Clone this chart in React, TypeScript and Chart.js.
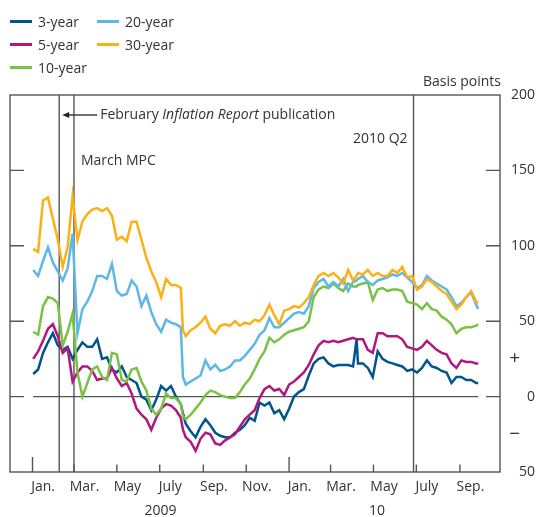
import React, { useEffect, useRef } from "react";
import { Chart, registerables } from "chart.js";

Chart.register(...registerables);

// Sample dates: days counted from 1 January 2009 (roughly weekly)
const days = [
  1, 8, 15, 22, 29, 36, 43, 50, 57, 64,
  71, 78, 85, 92, 99, 106, 113, 120, 127, 134,
  141, 148, 155, 162, 169, 176, 183, 190, 197, 204,
  211, 214, 218, 225, 232, 239, 246, 253, 260, 267,
  274, 281, 288, 295, 302, 309, 316, 323, 330, 337,
  344, 351, 358, 365, 372, 379, 386, 393, 400, 407,
  414, 421, 428, 435, 442, 449, 456, 461, 463, 470,
  477, 484, 491, 498, 505, 512, 519, 526, 533, 540,
  547, 554, 561, 568, 575, 582, 589, 596, 603, 610,
  617, 624, 631, 634,
];

// Basis points
const threeYear = [
  15, 18, 29, 36, 42, 34, 31, 33, 25, 31,
  36, 33, 33, 38, 25, 26, 18, 16, 20, 13,
  11, 9, 0, -2, -9, -2, 7, 4, 7, 0,
  -5, -11, -18, -23, -27, -20, -15, -19, -24, -26,
  -27, -27, -24, -22, -19, -14, -16, -4, -6, -4,
  -11, -9, -15, -8, 0, 3, 5, 14, 22, 25,
  26, 22, 20, 21, 21, 21, 20, 38, 22, 22,
  19, 13, 30, 25, 23, 22, 21, 20, 17, 18,
  16, 19, 24, 20, 19, 17, 16, 9, 13, 13,
  11, 11, 9, 9,
];

const fiveYear = [
  25, 30, 37, 45, 48, 40, 29, 32, 10, 16,
  20, 20, 17, 11, 12, 12, 19, 12, 7, 9,
  2, -8, -12, -15, -22, -14, -8, -5, -6, -9,
  -14, -22, -27, -30, -36, -28, -24, -25, -31, -32,
  -29, -27, -25, -20, -15, -12, -9, -1, 5, 7,
  4, 5, 1, 8, 10, 13, 16, 21, 28, 34,
  37, 36, 37, 36, 37, 38, 39, 38, 38, 38,
  31, 29, 42, 42, 40, 40, 40, 38, 33, 32,
  31, 33, 37, 34, 31, 29, 28, 22, 19, 24,
  23, 23, 22, 22,
];

const tenYear = [
  43, 41, 60, 66, 65, 62, 34, 43, 55, 16,
  0, 9, 18, 20, 13, 11, 29, 28, 11, 10,
  18, 19, 10, 4, -8, -12, -8, 2, -1, -1,
  -5, -13, -15, -12, -8, -4, 1, 4, 3, 1,
  0, -1, -1, 3, 8, 12, 18, 25, 30, 39,
  36, 38, 41, 43, 44, 45, 46, 50, 66, 71,
  73, 72, 75, 72, 70, 75, 73, 73, 74, 75,
  76, 64, 71, 72, 70, 71, 71, 70, 63, 62,
  61, 58, 62, 58, 57, 53, 51, 48, 42, 45,
  46, 46, 47, 48,
];

const twentyYear = [
  84, 80, 90, 99, 89, 83, 77, 85, 108, 42,
  58, 63, 70, 80, 80, 78, 88, 70, 67, 68,
  77, 73, 60, 67, 56, 48, 43, 51, 49, 48,
  46, 13, 8, 10, 12, 14, 24, 18, 21, 17,
  18, 20, 24, 24, 27, 31, 35, 41, 44, 52,
  46, 46, 49, 52, 55, 56, 55, 60, 72, 76,
  78, 73, 76, 73, 78, 70, 76, 77, 78, 80,
  76, 74, 77, 78, 79, 81, 80, 82, 79, 76,
  72, 74, 80, 77, 75, 73, 71, 66, 60, 62,
  66, 69, 61, 58,
];

const thirtyYear = [
  98, 96, 130, 132, 118, 104, 86, 99, 133, 104,
  116, 121, 124, 125, 123, 125, 120, 104, 106, 103,
  116, 116, 104, 92, 83, 76, 66, 78, 74, 74,
  72, 44, 40, 44, 46, 49, 53, 45, 42, 47,
  48, 47, 50, 47, 49, 48, 51, 50, 54, 61,
  54, 48, 57, 58, 60, 59, 62, 66, 74, 80,
  82, 80, 82, 79, 75, 84, 77, 80, 82, 81,
  84, 80, 82, 80, 80, 84, 82, 86, 79, 80,
  71, 73, 78, 76, 73, 70, 68, 63, 58, 61,
  66, 70, 63, 62,
];

const seriesNames = ["3-year", "5-year", "10-year", "20-year", "30-year"];
const seriesValues = [threeYear, fiveYear, tenYear, twentyYear, thirtyYear];
const seriesColors = ["#00558a", "#b0187f", "#7bc143", "#5cb8e6", "#fdb016"];

// Axis definitions (days from 1 Jan 2009)
const xMin = -32;
const xMax = 665;
const tickDays = [0, 59, 120, 181, 243, 304, 365, 424, 485, 546, 608];
const yearStartDays = [0, 365];
const monthLabelDays = [15, 74, 135, 196, 258, 319, 380, 439, 500, 561, 623];
const monthLabels = ["Jan.", "Mar.", "May", "July", "Sep.", "Nov.", "Jan.", "Mar.", "May", "July", "Sep."];
const yearLabelDays = [182, 490];
const yearLabels = ["2009", "10"];
const yTickValues = [-50, -25, 0, 25, 50, 100, 150, 200];
const yTickLabels = ["50", "\u2212   ", "0", "+   ", "50", "100", "150", "200"];
const innerYTicks = [0, 50, 100, 150];

// Event markers (days from 1 Jan 2009)
const irDay = 38;
const mpcDay = 59;
const q2Day = 542;

const FONT = "'Open Sans', 'DejaVu Sans', sans-serif";
const TEXT = "#333333";
const GRAY = "#555555";

const overlayPlugin = {
  id: "overlay",
  beforeDatasetsDraw(chart: any) {
    const { ctx, chartArea: a, scales } = chart;
    const x = scales.x;
    const y = scales.y;
    ctx.save();
    ctx.strokeStyle = GRAY;
    ctx.lineWidth = 1.4;
    const y0 = y.getPixelForValue(0);
    ctx.beginPath();
    ctx.moveTo(x.getPixelForValue(days[0]), y0);
    ctx.lineTo(x.getPixelForValue(days[days.length - 1]), y0);
    ctx.stroke();
    [irDay, mpcDay, q2Day].forEach((d) => {
      const px = x.getPixelForValue(d);
      ctx.beginPath();
      ctx.moveTo(px, a.top);
      ctx.lineTo(px, a.bottom);
      ctx.stroke();
    });
    ctx.restore();
  },
  afterDraw(chart: any) {
    const { ctx, chartArea: a, scales } = chart;
    const x = scales.x;
    const y = scales.y;
    ctx.save();
    ctx.strokeStyle = GRAY;
    ctx.lineWidth = 1.4;
    ctx.strokeRect(a.left, a.top, a.right - a.left, a.bottom - a.top);
    tickDays.forEach((d) => {
      const px = x.getPixelForValue(d);
      const len = yearStartDays.includes(d) ? 15 : 7.5;
      ctx.beginPath();
      ctx.moveTo(px, a.bottom);
      ctx.lineTo(px, a.bottom - len);
      ctx.stroke();
    });
    innerYTicks.forEach((v) => {
      const py = y.getPixelForValue(v);
      ctx.beginPath();
      ctx.moveTo(a.left, py);
      ctx.lineTo(a.left + 14, py);
      ctx.moveTo(a.right, py);
      ctx.lineTo(a.right - 14, py);
      ctx.stroke();
    });

    ctx.fillStyle = TEXT;
    ctx.textBaseline = "middle";
    const size = 14;
    const normal = `${size}px ${FONT}`;
    const italic = `italic ${size}px ${FONT}`;

    ctx.font = normal;
    ctx.textAlign = "right";
    ctx.fillText("Basis points", a.right + 1, a.top - 13);

    const xIR = x.getPixelForValue(irDay);
    const ya = a.top + 20;
    ctx.strokeStyle = "#222";
    ctx.lineWidth = 1.3;
    ctx.beginPath();
    ctx.moveTo(xIR + 8, ya);
    ctx.lineTo(xIR + 38, ya);
    ctx.stroke();
    ctx.fillStyle = "#222";
    ctx.beginPath();
    ctx.moveTo(xIR + 3, ya);
    ctx.lineTo(xIR + 10, ya - 3);
    ctx.lineTo(xIR + 10, ya + 3);
    ctx.closePath();
    ctx.fill();
    ctx.fillStyle = TEXT;
    ctx.textAlign = "left";
    let tx = xIR + 41;
    ctx.font = normal;
    ctx.fillText("February ", tx, ya);
    tx += ctx.measureText("February ").width;
    ctx.font = italic;
    ctx.fillText("Inflation Report", tx, ya);
    tx += ctx.measureText("Inflation Report").width;
    ctx.font = normal;
    ctx.fillText(" publication", tx, ya);

    const xMPC = x.getPixelForValue(mpcDay);
    ctx.fillText("March MPC", xMPC + 7, a.top + 66);

    const xQ2 = x.getPixelForValue(q2Day);
    ctx.textAlign = "right";
    ctx.fillText("2010 Q2", xQ2 - 6, a.top + 44);

    ctx.restore();
  },
};

export default function App() {
  const canvasRef = useRef<HTMLCanvasElement | null>(null);

  useEffect(() => {
    const canvas = canvasRef.current;
    if (!canvas) return;
    Chart.defaults.font.family = FONT;
    Chart.defaults.font.size = 14;
    Chart.defaults.color = TEXT;

    const datasets = seriesNames.map((name, i) => ({
      label: name,
      data: days.map((d, j) => ({ x: d, y: seriesValues[i][j] })),
      borderColor: seriesColors[i],
      backgroundColor: seriesColors[i],
      borderWidth: 2.5,
      pointRadius: 0,
      pointHoverRadius: 0,
      tension: 0,
      fill: false,
      order: seriesNames.length - 1 - i,
      xAxisID: "x",
      yAxisID: "y",
    }));

    const chart = new Chart(canvas, {
      type: "line",
      data: { datasets },
      options: {
        animation: false,
        responsive: false,
        maintainAspectRatio: false,
        devicePixelRatio: 1,
        layout: { padding: { left: 10, top: 95, right: 2, bottom: 0 } },
        plugins: { legend: { display: false }, tooltip: { enabled: false } },
        events: [],
        scales: {
          x: {
            type: "linear",
            position: "bottom",
            min: xMin,
            max: xMax,
            weight: 0,
            grid: { display: false, drawTicks: false },
            border: { display: false },
            afterBuildTicks: (s: any) => {
              s.ticks = monthLabelDays.map((v) => ({ value: v }));
            },
            afterFit: (s: any) => {
              s.height = 24;
            },
            ticks: {
              autoSkip: false,
              maxRotation: 0,
              minRotation: 0,
              padding: 7,
              color: TEXT,
              font: { size: 14 },
              callback: (v: any) => monthLabels[monthLabelDays.indexOf(Number(v))],
            },
          },
          xYear: {
            type: "linear",
            position: "bottom",
            min: xMin,
            max: xMax,
            weight: 1,
            grid: { display: false, drawTicks: false },
            border: { display: false },
            afterBuildTicks: (s: any) => {
              s.ticks = yearLabelDays.map((v) => ({ value: v }));
            },
            afterFit: (s: any) => {
              s.height = 21;
            },
            ticks: {
              autoSkip: false,
              maxRotation: 0,
              minRotation: 0,
              padding: 7,
              color: TEXT,
              font: { size: 14 },
              callback: (v: any) => yearLabels[yearLabelDays.indexOf(Number(v))],
            },
          },
          y: {
            type: "linear",
            position: "right",
            min: -50,
            max: 200,
            grid: { display: false, drawTicks: false },
            border: { display: false },
            afterBuildTicks: (s: any) => {
              s.ticks = yTickValues.map((v) => ({ value: v }));
            },
            afterFit: (s: any) => {
              s.width = 35;
            },
            ticks: {
              autoSkip: false,
              crossAlign: "far",
              padding: 0,
              color: TEXT,
              font: (c: any) => {
                const v = c.tick ? c.tick.value : 0;
                return { size: v === 25 || v === -25 ? 19 : 14 };
              },
              callback: (v: any) => yTickLabels[yTickValues.indexOf(Number(v))],
            },
          },
        },
      },
      plugins: [overlayPlugin],
    } as any);

    return () => chart.destroy();
  }, []);

  const legendCols = [10, 97];
  const legendRows = [21, 44, 67];

  return (
    <div style={{ position: "absolute", left: 0, top: 0, width: 537, height: 517, background: "#fff" }}>
      <canvas ref={canvasRef} width={537} height={517} style={{ display: "block", width: 537, height: 517 }} />
      {seriesNames.map((name, i) => {
        const col = i < 3 ? 0 : 1;
        const row = i < 3 ? i : i - 3;
        return (
          <div
            key={name}
            style={{
              position: "absolute",
              left: legendCols[col],
              top: legendRows[row] - 10,
              height: 20,
              display: "flex",
              alignItems: "center",
              fontFamily: FONT,
              fontSize: 14,
              color: TEXT,
              whiteSpace: "nowrap",
            }}
          >
            <span style={{ display: "inline-block", width: 22, height: 3, background: seriesColors[i], marginRight: 6 }} />
            <span>{name}</span>
          </div>
        );
      })}
    </div>
  );
}
